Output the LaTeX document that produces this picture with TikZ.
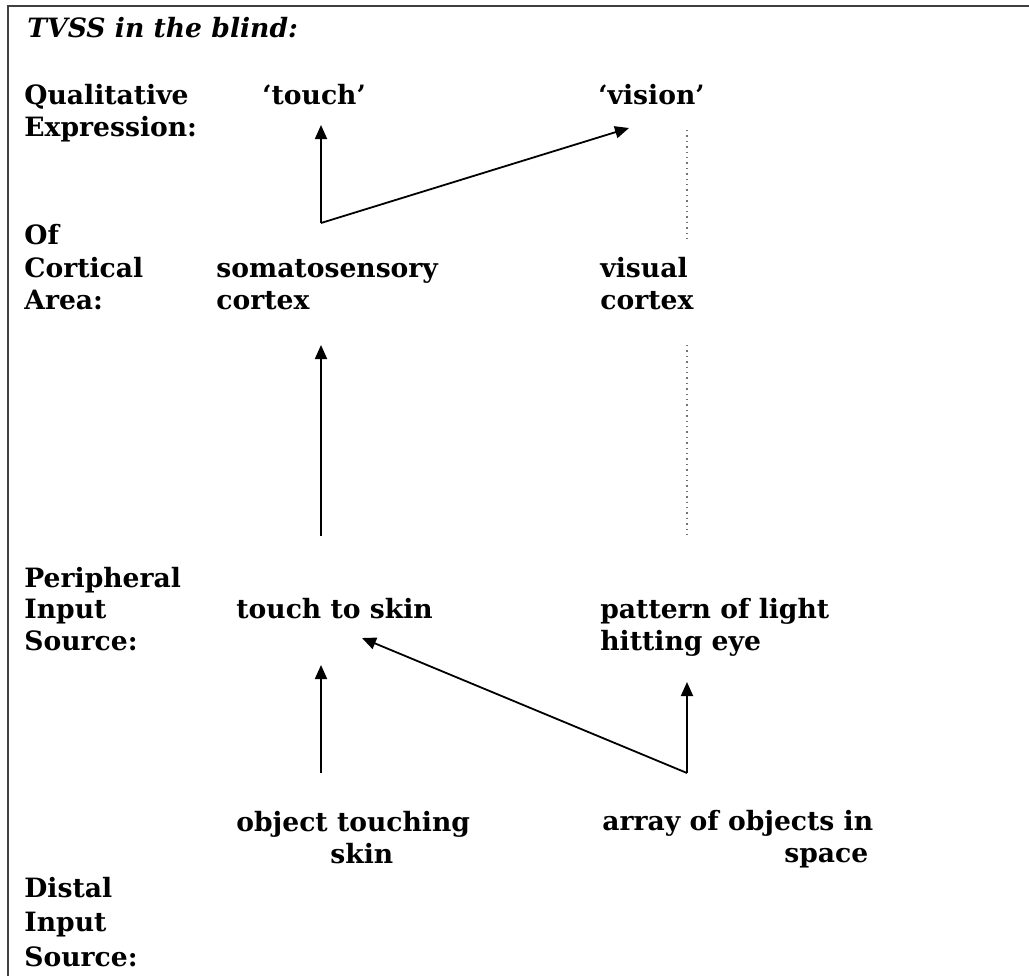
\documentclass[tikz,border=0pt]{standalone}
\usepackage{fontspec}
\setmainfont{DejaVu Serif}
\usetikzlibrary{arrows.meta}

\begin{document}
\begin{tikzpicture}[x=0.5pt,y=-0.5pt,
    lbl/.style={anchor=base west,inner sep=0pt,
        font=\fontsize{13.3}{16}\selectfont\bfseries},
    link/.style={-{Triangle[length=7pt,width=6pt]},line width=0.9pt},
    faint/.style={black!55,dotted,line width=0.7pt},
    frame/.style={line width=1.4pt,black!75}
]
 \useasboundingbox (0,0) rectangle (1029,976);
 \draw[frame] (1029,6) -- (8,6) -- (8,976);

 \node[lbl] (title) at (27,37) {\itshape TVSS in the blind:};

 % row labels
 \node[lbl] (qual) at (24,104) {Qualitative};
 \node[lbl] (expr) at (24,136) {Expression:};
 \node[lbl] (of) at (24,244) {Of};
 \node[lbl] (cort) at (24,277) {Cortical};
 \node[lbl] (area) at (24,309) {Area:};
 \node[lbl] (periph) at (24,587) {Peripheral};
 \node[lbl] (pinput) at (24,618) {Input};
 \node[lbl] (psource) at (24,650) {Source:};
 \node[lbl] (distal) at (24,897) {Distal};
 \node[lbl] (dinput) at (24,931) {Input};
 \node[lbl] (dsource) at (24,966) {Source:};

 % touch column
 \node[lbl] (touchq) at (262,104) {`touch'};
 \node[lbl] (soma) at (216,277) {somatosensory};
 \node[lbl] (somacx) at (216,309) {cortex};
 \node[lbl] (skin) at (236,618) {touch to skin};
 \node[lbl] (obj) at (236,831) {object touching};
 \node[lbl] (objskin) at (330,863) {skin};

 % vision column
 \node[lbl] (visionq) at (598,104) {`vision'};
 \node[lbl] (visual) at (600,277) {visual};
 \node[lbl] (viscx) at (600,309) {cortex};
 \node[lbl] (light) at (600,618) {pattern of light};
 \node[lbl] (lighteye) at (600,650) {hitting eye};
 \node[lbl] (array) at (602,830) {array of objects in};
 \node[lbl] (space) at (784,862) {space};

 % arrow ends
 \coordinate (somaup) at (321,223);
 \coordinate (touchtip) at (321,125);
 \coordinate (visiontip) at (629,128);
 \coordinate (skinup) at (321,536);
 \coordinate (somatip) at (321,345);
 \coordinate (objup) at (321,773);
 \coordinate (skintip) at (321,665);
 \coordinate (arrayup) at (687,773);
 \coordinate (eyetip) at (687,682);
 \coordinate (crosstip) at (362,638);
 \coordinate (dotA) at (687,130);
 \coordinate (dotB) at (687,242);
 \coordinate (dotC) at (687,345);
 \coordinate (dotD) at (687,537);

 \draw[link] (somaup) -- (touchtip);
 \draw[link] (somaup) -- (visiontip);
 \draw[link] (skinup) -- (somatip);
 \draw[link] (objup) -- (skintip);
 \draw[link] (arrayup) -- (eyetip);
 \draw[link] (arrayup) -- (crosstip);
 \draw[faint] (dotA) -- (dotB);
 \draw[faint] (dotC) -- (dotD);
\end{tikzpicture}
\end{document}
